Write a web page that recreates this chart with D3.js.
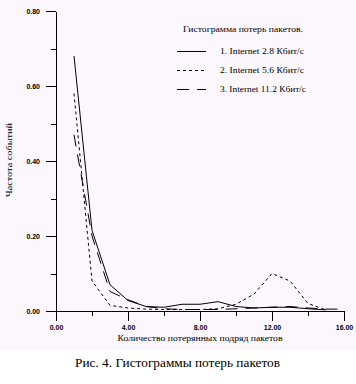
<!DOCTYPE html>
<html><head><meta charset="utf-8">
<script src="https://cdn.jsdelivr.net/npm/d3@7"></script>
<style>body{margin:0;background:#fff}svg{display:block}</style>
</head><body>
<script>
const xValues1 = [1,2,3,4,5,6,7,8,9,10,11,12,13,14,15];
const series1 = [0.68,0.215,0.07,0.028,0.012,0.01,0.018,0.018,0.025,0.012,0.008,0.01,0.01,0.006,0.003];
const xValues2 = [1,2,3,4,5,6,7,8,9,10,11,12,13,14,15];
const series2 = [0.58,0.08,0.015,0.008,0.005,0.004,0.004,0.004,0.006,0.018,0.045,0.1,0.08,0.02,0.003];
const xValues3 = [1,2,3,4,5,6,7,8,9,10,11,12,13,14,15,16];
const series3 = [0.47,0.2,0.052,0.03,0.012,0.006,0.004,0.004,0.004,0.006,0.008,0.01,0.012,0.008,0.005,0.005];
const seriesNames = ["1. Internet 2.8 Кбит/с","2. Internet 5.6 Кбит/с","3. Internet 11.2 Кбит/с"];
const xMajor = [0,4,8,12,16], xMinor = [2,6,10,14];
const yMajor = [0,0.2,0.4,0.6,0.8], yMinor = [0.1,0.3,0.5,0.7];
const legendTitle = "Гистограмма потерь пакетов.";
const xTitle = "Количество потерянных подряд пакетов";
const yTitle = "Частота событий";
const caption = "Рис. 4. Гистограммы потерь пакетов";

const W=356,H=384;
const svg=d3.select("body").append("svg").attr("width",W).attr("height",H);
svg.append("rect").attr("width",W).attr("height",350).attr("fill","#fcf7fc");
const x=d3.scaleLinear([0,16],[56,344]);
const y=d3.scaleLinear([0,0.8],[311,11]);
const fmt=d3.format(".2f");
const tickFont="'Liberation Sans', Arial, sans-serif";
const serif="'Liberation Serif','Times New Roman',serif";

function styleAxis(g){
  g.selectAll("path,line").attr("stroke","#000").attr("stroke-width",1).attr("shape-rendering","crispEdges");
  g.selectAll("text").attr("fill","#000").attr("font-family",tickFont).attr("font-weight","bold").attr("font-size",7);
}
svg.append("g").attr("transform","translate(56,0)")
  .call(d3.axisLeft(y).tickValues(yMajor).tickSize(10).tickSizeOuter(0).tickPadding(6).tickFormat(fmt)).call(styleAxis);
svg.append("g").attr("transform","translate(56,0)")
  .call(d3.axisLeft(y).tickValues(yMinor).tickSize(5).tickSizeOuter(0).tickFormat("")).call(styleAxis);
svg.append("g").attr("transform","translate(0,311)")
  .call(d3.axisBottom(x).tickValues(xMajor).tickSize(10).tickSizeOuter(0).tickPadding(4).tickFormat(fmt)).call(styleAxis);
svg.append("g").attr("transform","translate(0,311)")
  .call(d3.axisBottom(x).tickValues(xMinor).tickSize(5).tickSizeOuter(0).tickFormat("")).call(styleAxis);

const dashes=[null,"3,3","12,8"];
const data=[[xValues1,series1],[xValues2,series2],[xValues3,series3]];
const line=d3.line().x(d=>x(d[0])).y(d=>y(d[1]));
data.forEach(([xs,vs],i)=>{
  svg.append("path").datum(xs.map((v,j)=>[v,vs[j]]))
    .attr("d",line).attr("fill","none").attr("stroke","#000").attr("stroke-width",1)
    .attr("stroke-dasharray",dashes[i]);
});

// legend
svg.append("text").attr("x",183).attr("y",32).attr("font-family",serif).attr("font-size",8.5)
  .attr("textLength",120).attr("lengthAdjust","spacingAndGlyphs").text(legendTitle);
seriesNames.forEach((n,i)=>{
  const ly=51+i*19;
  svg.append("line").attr("x1",177).attr("x2",206).attr("y1",ly+0.5).attr("y2",ly+0.5)
    .attr("stroke","#000").attr("stroke-dasharray",dashes[i]);
  svg.append("text").attr("x",220).attr("y",ly+3).attr("font-family",serif).attr("font-size",8.5)
    .attr("textLength",i==2?86:84).attr("lengthAdjust","spacingAndGlyphs").text(n);
});

svg.append("text").attr("x",200).attr("y",341).attr("text-anchor","middle").attr("font-family",serif)
  .attr("font-size",8.5).attr("textLength",165).attr("lengthAdjust","spacingAndGlyphs").text(xTitle);
svg.append("text").attr("transform","translate(12,160) rotate(-90)").attr("text-anchor","middle")
  .attr("font-family",serif).attr("font-size",8.5).attr("textLength",74).attr("lengthAdjust","spacingAndGlyphs").text(yTitle);
svg.append("text").attr("x",177.5).attr("y",367).attr("text-anchor","middle").attr("font-family",serif)
  .attr("font-size",12.5).attr("textLength",205).attr("lengthAdjust","spacingAndGlyphs").text(caption);
</script>
</body></html>
